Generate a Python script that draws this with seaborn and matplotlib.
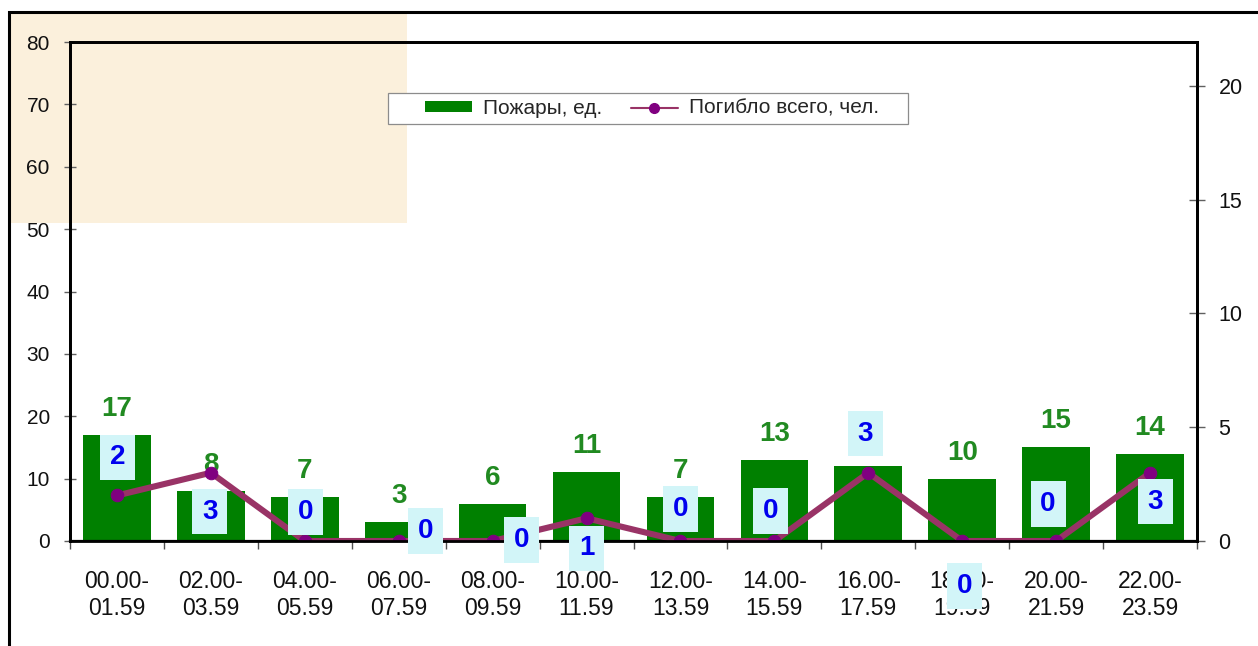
import numpy as np
import pandas as pd
import matplotlib
matplotlib.use("Agg")
import matplotlib.pyplot as plt
import seaborn as sns
from matplotlib.patches import Rectangle, Patch
from matplotlib.lines import Line2D

# ---------------- data ----------------
categories = ["00.00-\n01.59", "02.00-\n03.59", "04.00-\n05.59", "06.00-\n07.59",
              "08.00-\n09.59", "10.00-\n11.59", "12.00-\n13.59", "14.00-\n15.59",
              "16.00-\n17.59", "18.00-\n19.59", "20.00-\n21.59", "22.00-\n23.59"]
fires = [17, 8, 7, 3, 6, 11, 7, 13, 12, 10, 15, 14]
deaths = [2, 3, 0, 0, 0, 1, 0, 0, 3, 0, 0, 3]
fires_label = "Пожары, ед."
deaths_label = "Погибло всего, чел."
left_ticks = [0, 10, 20, 30, 40, 50, 60, 70, 80]
right_ticks = [0, 5, 10, 15, 20]

# label placement offsets for the deaths labels (pixels: dx right, dy down)
death_label_offsets = [(1, -38), (-1, 39), (1, -29), (27, -10), (29, -1), (0, 30),
                       (0, -32), (-4, -30), (-3, -39), (2, 45), (-8, -37), (5, 29)]

# ---------------- style ----------------
W, H = 1258, 646
PX = 0.72  # points per pixel at dpi 100
GREEN = "#008000"
LGREEN = "#218A21"
PLUM = "#993366"
PURPLE = "#800080"
BLUE = "#0000EE"
BOXC = "#D2F5F8"

sns.set_theme(style="white")
plt.rcParams["font.family"] = ["Liberation Sans", "DejaVu Sans"]

fig = plt.figure(figsize=(W / 100, H / 100), dpi=100)
fig.patch.set_facecolor("white")

# parchment texture area in the top-left
fig.add_artist(Rectangle((9 / W, 1 - 223 / H), (407 - 9) / W, (223 - 12) / H,
                         transform=fig.transFigure, fc="#FBF0DC", ec="none", zorder=-1))

ax = fig.add_axes([70 / W, 1 - 541 / H, (1197 - 70) / W, (541 - 42) / H])
ax.set_facecolor("none")

df = pd.DataFrame({"interval": categories, "fires": fires, "deaths": deaths})

sns.barplot(data=df, x="interval", y="fires", color=GREEN, saturation=1,
            width=0.72, errorbar=None, ax=ax, linewidth=0)

ax2 = ax.twinx()
sns.lineplot(data=df, x="interval", y="deaths", sort=False, ax=ax2, color=PLUM,
             linewidth=4.4, marker="o", markersize=9, markerfacecolor=PURPLE,
             markeredgecolor=PURPLE, legend=False)

ax.set_ylim(0, 80)
ax2.set_ylim(0, 21.93)
ax.set_xlim(-0.5, len(categories) - 0.5)

# bar value labels
for i, v in enumerate(fires):
    ax.annotate(str(v), xy=(i, v), xytext=(0, 19 * PX), textcoords="offset points",
                ha="center", va="baseline", fontsize=20, fontweight="bold", color=LGREEN)

# deaths labels
for i, (d, (dx, dy)) in enumerate(zip(deaths, death_label_offsets)):
    ax2.annotate(str(d), xy=(i, d), xytext=(dx * PX, -dy * PX), textcoords="offset points",
                 ha="center", va="center", fontsize=20, fontweight="bold", color=BLUE,
                 bbox=dict(boxstyle="square,pad=0.35", fc=BOXC, ec="none"),
                 zorder=10, annotation_clip=False)

# ticks
ax.set_yticks(left_ticks)
ax.tick_params(axis="y", which="major", direction="inout", length=9, width=1,
               color="#606060", labelsize=15, pad=10, left=True, labelcolor="#111111")
ax2.set_yticks(right_ticks)
ax2.tick_params(axis="y", which="major", direction="inout", length=11, width=1,
                color="#606060", labelsize=15.5, pad=10, right=True, labelcolor="#111111")
ax.set_xticks(range(len(categories)))
ax.set_xticklabels(categories)
ax.tick_params(axis="x", which="major", length=0, labelsize=16.5, pad=21, labelcolor="#111111")
ax.set_xticks(np.arange(-0.5, len(categories), 1), minor=True)
ax.tick_params(axis="x", which="minor", direction="out", length=6, width=1,
               color="#505050", bottom=True)
ax.set_xlabel("")
ax.set_ylabel("")
ax2.set_ylabel("")
ax2.set_xlabel("")

for a in (ax, ax2):
    for s in a.spines.values():
        s.set_color("black")
        s.set_linewidth(2)
ax.spines["bottom"].set_linewidth(1.6)

# legend
fig.add_artist(Rectangle((388 / W, 1 - 124 / H), 520 / W, 31 / H, transform=fig.transFigure,
                         fc="white", ec="#8c8c8c", lw=0.9, zorder=5))
handles = [Patch(facecolor=GREEN, edgecolor="none"),
           Line2D([], [], color=PLUM, lw=1.5, marker="o", markersize=7,
                  markerfacecolor=PURPLE, markeredgecolor=PURPLE)]
leg = fig.legend(handles, [fires_label, deaths_label], loc="center left",
                 bbox_to_anchor=(425 / W, 1 - 108.5 / H), bbox_transform=fig.transFigure,
                 frameon=False, borderpad=0, borderaxespad=0, ncol=2, fontsize=15,
                 handlelength=2.26, handleheight=0.38, handletextpad=0.53, columnspacing=1.35)
leg.set_zorder(6)

# outer frame
fig.add_artist(Rectangle((9 / W, -0.5), 2, 1 - 12 / H + 0.5, transform=fig.transFigure,
                         fill=False, ec="black", lw=2.2, zorder=10))

fig.savefig("out.png", dpi=100)
